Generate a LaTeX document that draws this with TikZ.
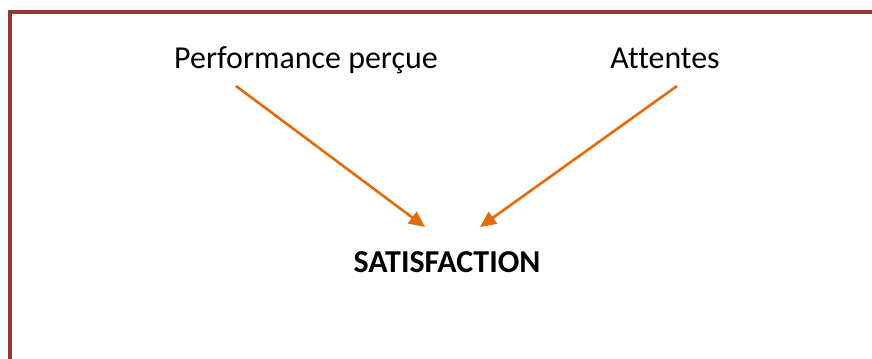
\documentclass[tikz,border=0pt]{standalone}
\usepackage{fontspec}
\setmainfont{Carlito}[Ligatures=NoCommon]
\usetikzlibrary{arrows.meta}
\definecolor{framered}{HTML}{943634}
\definecolor{arroworange}{HTML}{E36C09}

\begin{document}
\begin{tikzpicture}[x=0.025cm, y=-0.025cm, every node/.style={font=\fontsize{22.7}{27}\selectfont, inner sep=0pt, anchor=base}, link/.style={arroworange, line width=0.065cm, -{Triangle[length=0.4cm, width=0.36cm]}}]
	\useasboundingbox (0,0) rectangle (872,358);
	\draw[framered, line width=0.1cm] (10,362) -- (10,11.5) -- (876,11.5);
	\node (perf) at (306,68) {Performance perçue};
	\node (att) at (665,68) {Attentes};
	\node[font=\fontsize{22.7}{27}\selectfont\bfseries] (sat) at (447,272) {SATISFACTION};
	\coordinate (perfend) at (425,227);
	\coordinate (attend) at (480,227);
	\draw[link] (236,86) coordinate (perfstart) -- (perfend);
	\draw[link] (677,86) coordinate (attstart) -- (attend);
\end{tikzpicture}
\end{document}
